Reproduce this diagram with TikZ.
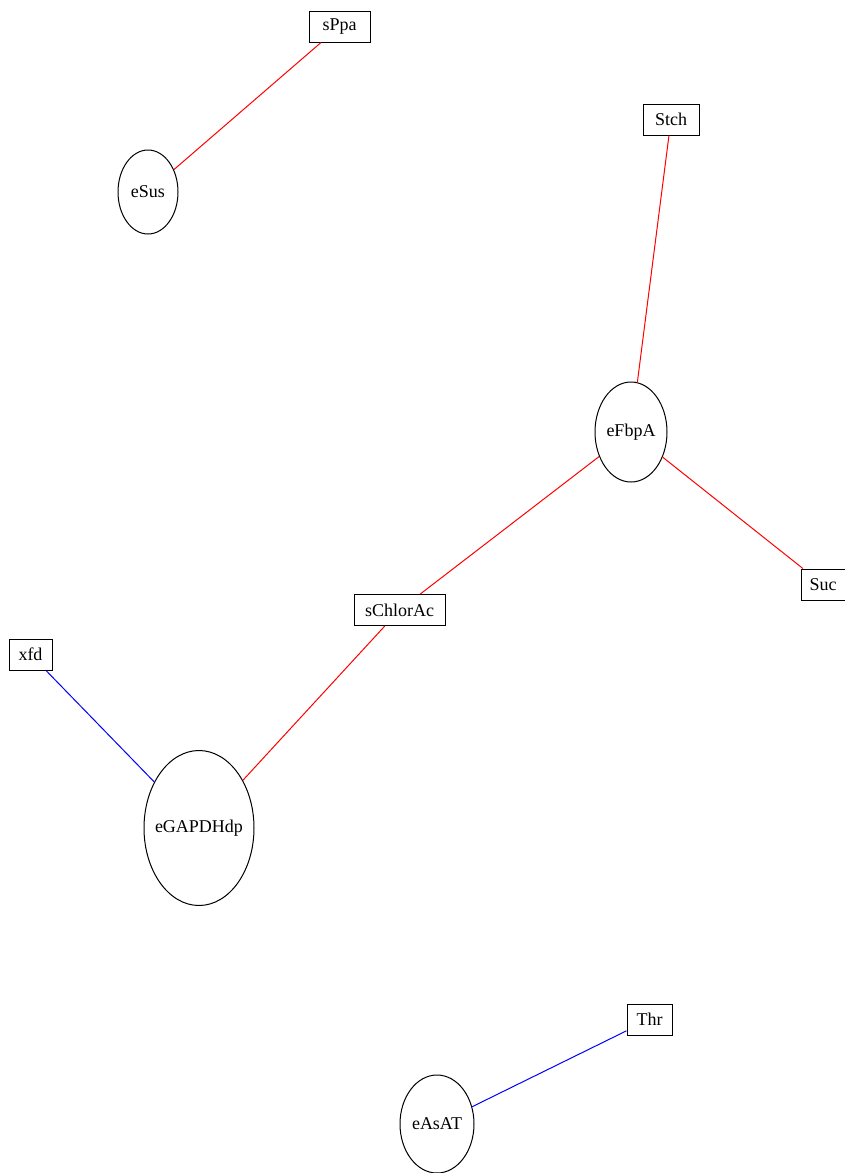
\documentclass[tikz,border=0pt]{standalone}
\usepackage{fontspec}
\setmainfont{Liberation Serif}
\usetikzlibrary{shapes.geometric}
\begin{document}
\begin{tikzpicture}[x=1pt,y=-1pt,
  boxnode/.style={draw,line width=1pt,rectangle,inner sep=0pt,minimum height=31pt,font=\fontsize{18}{20}\selectfont},
  ellnode/.style={draw,line width=1pt,ellipse,inner sep=0pt,label={[font=\fontsize{18}{20}\selectfont,inner sep=0pt]center:#1}},
  redline/.style={draw=red,line width=1pt},
  blueline/.style={draw=blue,line width=1pt}]
\useasboundingbox (0,0) rectangle (845,1173);
\node[boxnode,minimum width=61pt] (sPpa) at (339.5,26.5) {sPpa};
\node[ellnode=eSus,minimum width=60pt,minimum height=84pt] (eSus) at (148,192) {};
\node[boxnode,minimum width=56pt] (Stch) at (671,119.5) {Stch};
\node[ellnode=eFbpA,minimum width=72pt,minimum height=100pt] (eFbpA) at (631,432) {};
\node[boxnode,minimum width=44pt] (Suc) at (823,584.5) {Suc};
\node[boxnode,minimum width=91pt] (sChlorAc) at (399.5,610) {sChlorAc};
\node[boxnode,minimum width=43pt] (xfd) at (30.5,654.5) {xfd};
\node[ellnode=eGAPDHdp,minimum width=110pt,minimum height=155pt] (eGAPDHdp) at (199,828) {};
\node[boxnode,minimum width=45pt] (Thr) at (649.5,1019.5) {Thr};
\node[ellnode=eAsAT,minimum width=74pt,minimum height=98pt] (eAsAT) at (437,1124) {};
\draw[redline] (sPpa) -- (eSus);
\draw[redline] (Stch) -- (eFbpA);
\draw[redline] (eFbpA) -- (Suc);
\draw[redline] (eFbpA) -- (sChlorAc);
\draw[redline] (sChlorAc) -- (eGAPDHdp);
\draw[blueline] (xfd) -- (eGAPDHdp);
\draw[blueline] (Thr) -- (eAsAT);
\end{tikzpicture}
\end{document}
